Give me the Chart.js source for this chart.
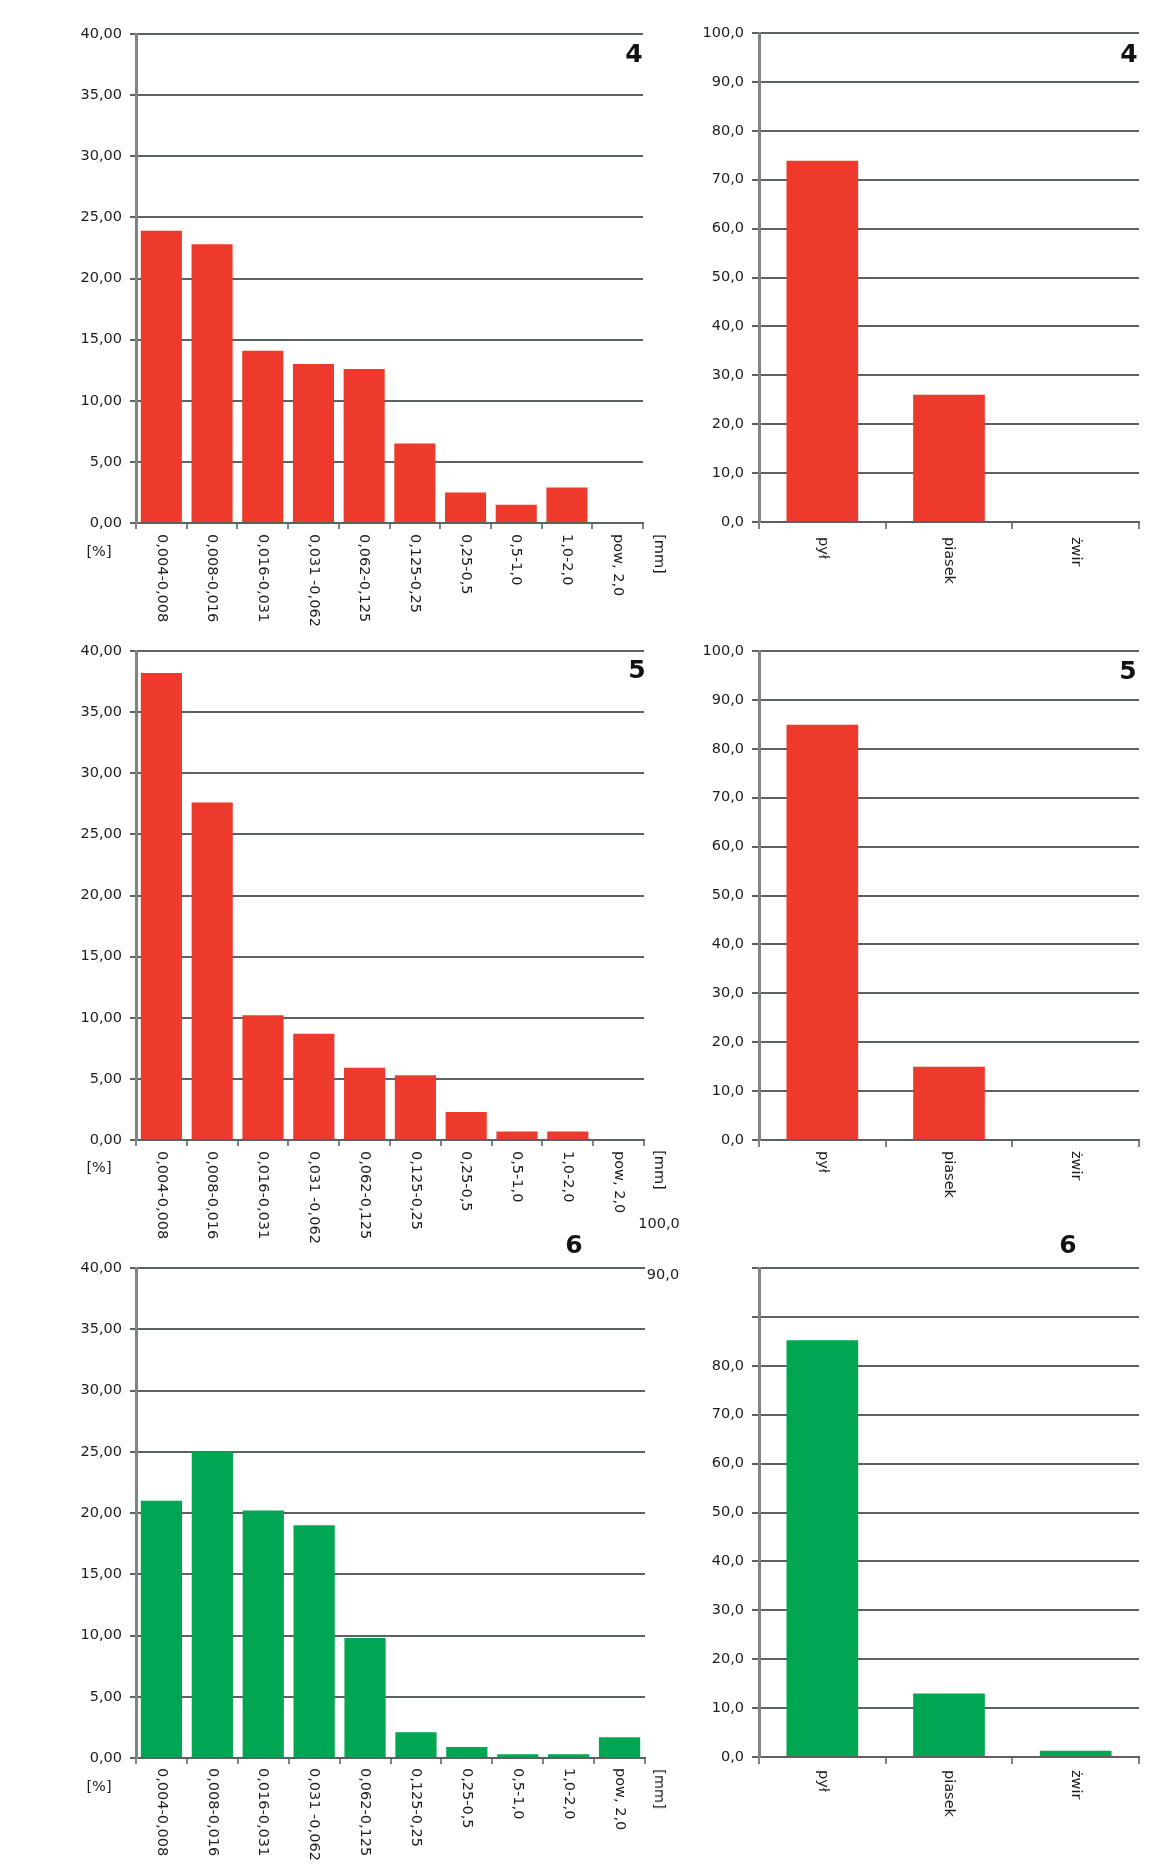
<!DOCTYPE html>
<html>
<head>
<meta charset="utf-8">
<script src="https://cdn.jsdelivr.net/npm/chart.js@4"></script>
<style>
  html, body { margin:0; padding:0; background:#fff; }
  #page { position:relative; width:1149px; height:1865px; overflow:hidden; background:#fff; }
  canvas { position:absolute; }
  .note { position:absolute; font-family:"DejaVu Sans", sans-serif; font-size:14.5px; color:#1c1c1c; white-space:nowrap; transform:translate(-50%,-50%); }
  .num { font-weight:bold; font-size:25px; color:#111; }
</style>
</head>
<body>
<div id="page"></div>
<script>
// grain size classes [mm] and fractions
const sizeClasses = ['0,004-0,008','0,008-0,016','0,016-0,031','0,031 -0,062','0,062-0,125','0,125-0,25','0,25-0,5','0,5-1,0','1,0-2,0','pow, 2,0'];
const fractionClasses = ['pył','piasek','żwir'];

// sample 4
const sample4Sizes = [23.9, 22.8, 14.1, 13.0, 12.6, 6.5, 2.5, 1.5, 2.9, 0];
const sample4Fractions = [73.9, 26.0, 0];
// sample 5
const sample5Sizes = [38.2, 27.6, 10.2, 8.7, 5.9, 5.3, 2.3, 0.7, 0.7, 0];
const sample5Fractions = [84.9, 15.0, 0];
// sample 6
const sample6Sizes = [21.0, 25.0, 20.2, 19.0, 9.8, 2.1, 0.9, 0.3, 0.3, 1.7];
const sample6Fractions = [85.2, 13.0, 1.3];

// axis ticks
const sizeAxis = {max:40, step:5, decimals:2};
const fractionAxis = {max:100, step:10, decimals:1};

const RED = '#ee3a2c';
const GREEN = '#00a651';
const GRID = '#5c6260';
const AXIS = '#7f8381';
const TEXT = '#1c1c1c';
const FONT = '14.5px "DejaVu Sans", sans-serif';

Chart.defaults.font.family = '"DejaVu Sans", sans-serif';
Chart.defaults.font.size = 14.5;
Chart.defaults.color = TEXT;

const verticalLabels = {
    id: 'verticalLabels',
    afterDraw(chart, args, opts) {
        const {ctx, chartArea} = chart;
        const xs = chart.scales.x;
        ctx.save();
        ctx.font = FONT;
        ctx.fillStyle = TEXT;
        ctx.textAlign = 'left';
        ctx.textBaseline = 'middle';
        chart.data.labels.forEach((lab, i) => {
            ctx.save();
            ctx.translate(xs.getPixelForValue(i), chartArea.bottom + opts.gap);
            ctx.rotate(Math.PI / 2);
            ctx.fillText(lab, 0, 0);
            ctx.restore();
        });
        ctx.restore();
    }
};

const page = document.getElementById('page');

function addNote(text, x, y, cls, extra) {
    const d = document.createElement('div');
    d.className = 'note ' + (cls || '');
    d.textContent = text;
    d.style.left = x + 'px';
    d.style.top = y + 'px';
    if (extra) d.style.transform = extra;
    page.appendChild(d);
}

// p: canvas box + wanted chart area (page coords)
function makePanel(p) {
    const c = document.createElement('canvas');
    c.width = p.cw; c.height = p.ch;
    c.style.left = p.cl + 'px'; c.style.top = p.ct + 'px';
    c.style.width = p.cw + 'px'; c.style.height = p.ch + 'px';
    page.appendChild(c);
    const yW = p.area[0] - p.cl;
    const padR = p.cl + p.cw - p.area[1];
    const padT = p.area[2] - p.ct;
    const xH = p.ct + p.ch - p.area[3];
    const ax = p.axis;
    return new Chart(c.getContext('2d'), {
        type: 'bar',
        data: { labels: p.labels, datasets: [{ data: p.values, backgroundColor: p.color, borderWidth: 0,
            barPercentage: p.bar, categoryPercentage: 1 }] },
        options: {
            responsive: false, animation: false,
            layout: { padding: { top: padT, right: padR, left: 0, bottom: 0 } },
            plugins: { legend: { display: false }, tooltip: { enabled: false }, verticalLabels: { gap: p.gap } },
            scales: {
                x: {
                    ticks: { display: false },
                    grid: { drawOnChartArea: false, drawTicks: true, tickLength: p.tick, color: AXIS, lineWidth: 2, offset: true },
                    border: { display: true, color: GRID, width: 2 },
                    afterFit(s) { s.height = xH; }
                },
                y: {
                    min: 0, max: ax.max,
                    ticks: { stepSize: ax.step, padding: 8, color: TEXT,
                        callback: v => (p.hide && p.hide.includes(v)) ? '' : v.toFixed(ax.decimals).replace('.', ',') },
                    grid: { color: GRID, lineWidth: 2, tickLength: p.tick },
                    border: { display: true, color: AXIS, width: 3 },
                    afterFit(s) { s.width = yW; }
                }
            }
        },
        plugins: [verticalLabels]
    });
}

function init() {
    makePanel({cl:55, ct:0, cw:625, ch:640, area:[136, 643, 34, 523], labels:sizeClasses, values:sample4Sizes,
        color:RED, axis:sizeAxis, bar:0.81, gap:11, tick:6});
    makePanel({cl:690, ct:0, cw:459, ch:640, area:[759, 1139, 33, 522], labels:fractionClasses, values:sample4Fractions,
        color:RED, axis:fractionAxis, bar:0.566, gap:15, tick:7});
    makePanel({cl:55, ct:620, cw:625, ch:640, area:[136, 644, 651, 1140], labels:sizeClasses, values:sample5Sizes,
        color:RED, axis:sizeAxis, bar:0.81, gap:11, tick:6});
    makePanel({cl:690, ct:620, cw:459, ch:640, area:[759, 1139, 651, 1140], labels:fractionClasses, values:sample5Fractions,
        color:RED, axis:fractionAxis, bar:0.566, gap:11, tick:7});
    makePanel({cl:55, ct:1240, cw:625, ch:625, area:[136, 645, 1268, 1758], labels:sizeClasses, values:sample6Sizes,
        color:GREEN, axis:sizeAxis, bar:0.81, gap:10, tick:6});
    makePanel({cl:690, ct:1240, cw:459, ch:625, area:[759, 1139, 1268, 1757], labels:fractionClasses, values:sample6Fractions,
        color:GREEN, axis:fractionAxis, bar:0.566, gap:13, tick:7, hide:[90, 100]});

    // sample numbers
    addNote('4', 634, 53, 'num');
    addNote('4', 1129, 53, 'num');
    addNote('5', 637, 669, 'num');
    addNote('5', 1128, 670, 'num');
    addNote('6', 574, 1244, 'num');
    addNote('6', 1068, 1244, 'num');
    // units
    [551, 1167, 1786].forEach(y => addNote('[%]', 99, y));
    [554, 1170, 1789].forEach(y => addNote('[mm]', 660, y, '', 'translate(-50%,-50%) rotate(90deg)'));
    // axis labels of the last chart that sit apart from it
    addNote('100,0', 659, 1223);
    addNote('90,0', 663, 1274);
}

document.addEventListener('DOMContentLoaded', init);
</script>
</body>
</html>
